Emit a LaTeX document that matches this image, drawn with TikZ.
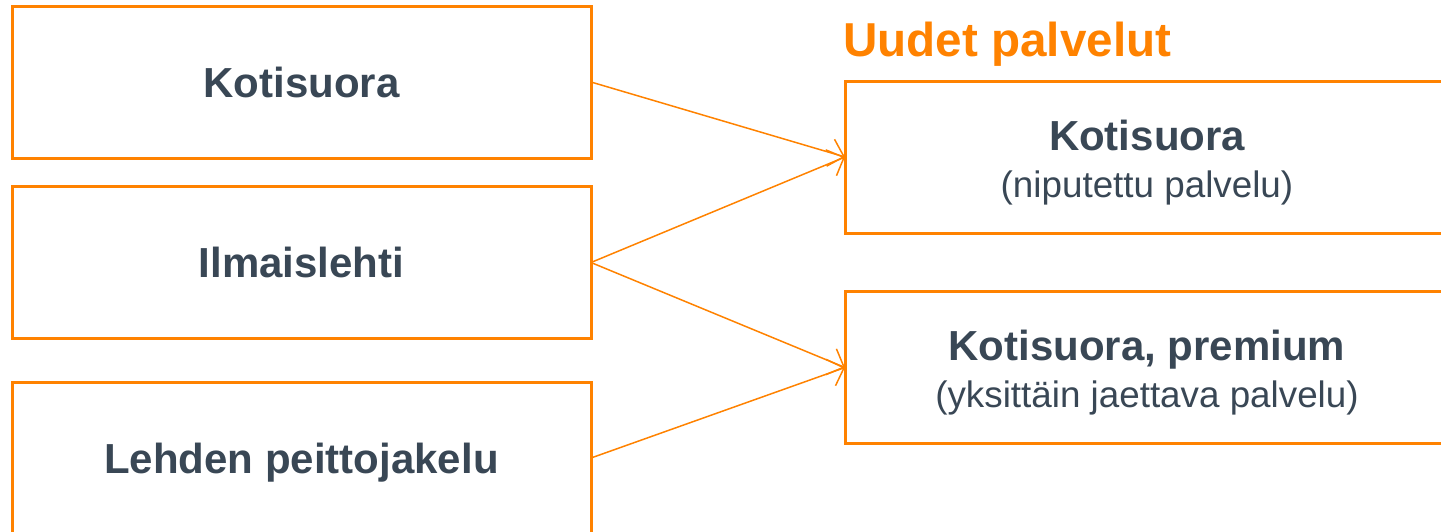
\documentclass[tikz,border=0pt]{standalone}
\usepackage{fontspec}
\setmainfont{Liberation Sans}
\usetikzlibrary{arrows.meta}

\definecolor{palvOrange}{RGB}{255,130,0}
\definecolor{palvText}{RGB}{57,71,85}

\tikzset{
    oldbox/.style={draw=palvOrange, line width=1.5pt, minimum width=289.5pt, minimum height=76pt,
                   inner sep=0pt, outer sep=0pt, text=palvText, text height=15pt, text depth=0pt,
                   font=\fontsize{21}{25}\selectfont\bfseries},
    newbox/.style={draw=palvOrange, line width=1.5pt, minimum width=302pt, minimum height=76pt,
                   inner sep=0pt, outer sep=0pt},
    newname/.style={anchor=base, inner sep=0pt, text=palvText, font=\fontsize{21}{25}\selectfont\bfseries},
    newnote/.style={anchor=base, inner sep=0pt, text=palvText, font=\fontsize{18.4}{22}\selectfont},
    flow/.style={draw=palvOrange, line width=0.75pt, -{Straight Barb[length=7pt,width=14pt]}}
}

\begin{document}
\begin{tikzpicture}[x=0.5pt, y=-0.5pt]
        \useasboundingbox (0,0) rectangle (1441,531);
        \clip (0,0) rectangle (1441,531);
        % nykyiset palvelut
        \node[oldbox] (kotisuora) at (301.5,82) {Kotisuora};
        \node[oldbox] (ilmaislehti) at (301.5,262.5) {Ilmaislehti};
        \node[oldbox] (peitto) at (301.5,458) {Lehden peittojakelu};
        % uudet palvelut
        \node[anchor=base west, inner sep=0pt, text=palvOrange, font=\fontsize{23.8}{28}\selectfont\bfseries] (otsikko) at (843,56) {Uudet palvelut};
        \node[newbox] (niputettu) at (1147,157) {};
        \node[newname] (niputettuNimi) at (1147,150) {Kotisuora};
        \node[newnote] (niputettuSelite) at (1147,197) {(niputettu palvelu)};
        \node[newbox] (premium) at (1147,367.5) {};
        \node[newname] (premiumNimi) at (1147,360.5) {Kotisuora, premium};
        \node[newnote] (premiumSelite) at (1147,407.5) {(yksittäin jaettava palvelu)};
        % nuolet
        \draw[flow] (kotisuora.east) -- (niputettu.west);
        \draw[flow] (ilmaislehti.east) -- (niputettu.west);
        \draw[flow] (ilmaislehti.east) -- (premium.west);
        \draw[flow] (peitto.east) -- (premium.west);
\end{tikzpicture}
\end{document}
